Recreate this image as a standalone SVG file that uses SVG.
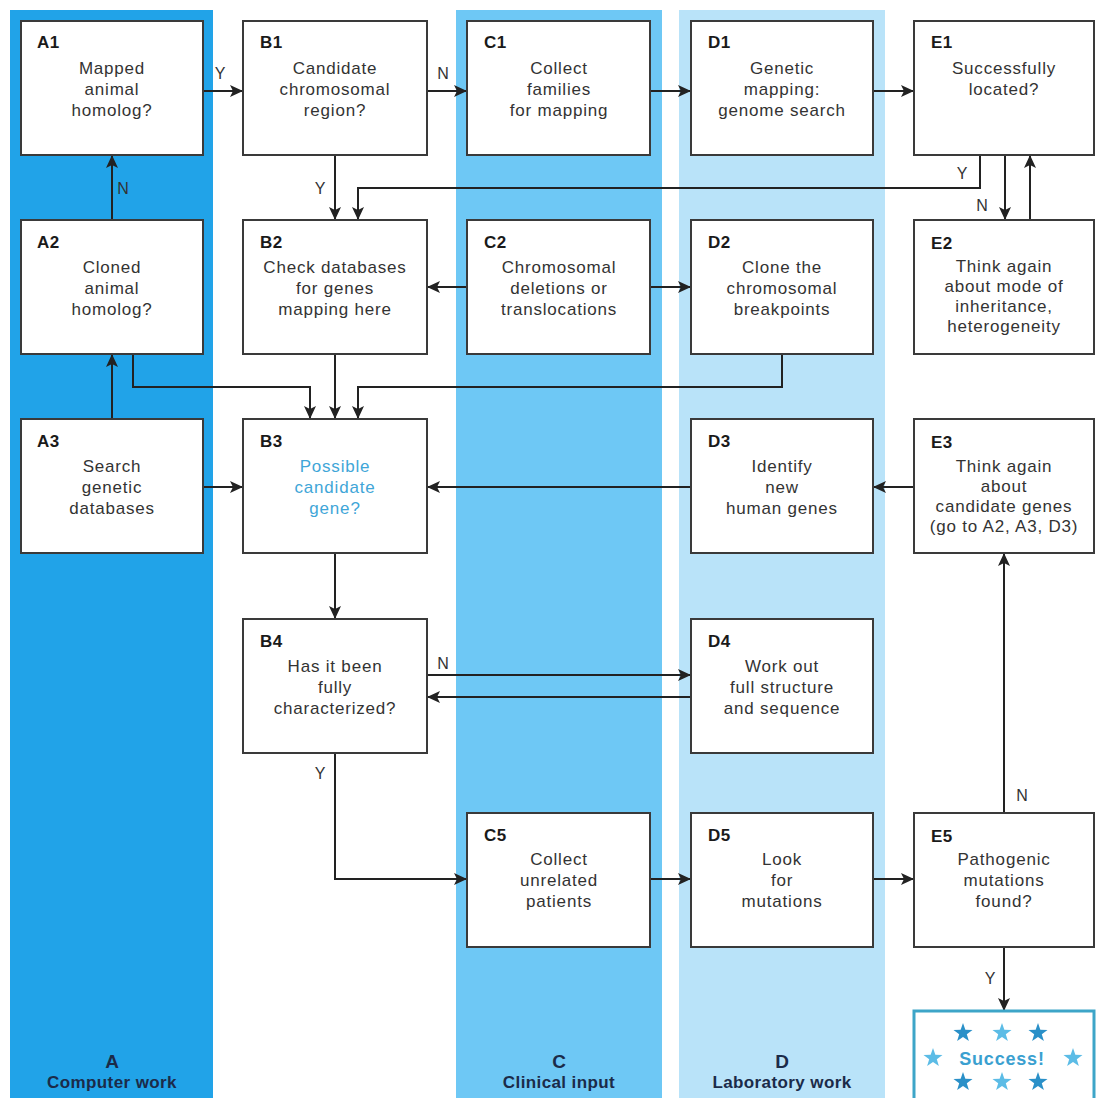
<svg xmlns="http://www.w3.org/2000/svg" width="1096" height="1098" viewBox="0 0 1096 1098">
<defs>
<style>
.box{fill:#fff;stroke:#3a3a3a;stroke-width:2}
.lbl{font-family:"Liberation Sans",Arial,sans-serif;font-weight:bold;font-size:17px;letter-spacing:0.5px;fill:#1a1a1a}
.txt{font-family:"Liberation Sans",Arial,sans-serif;font-size:17px;letter-spacing:0.8px;fill:#333;text-anchor:middle}
.yn{font-family:"Liberation Sans",Arial,sans-serif;font-size:16px;fill:#333;text-anchor:middle}
.col{font-family:"Liberation Sans",Arial,sans-serif;font-weight:bold;fill:#1b2b49;text-anchor:middle}
.con{fill:none;stroke:#222;stroke-width:2;marker-end:url(#ah)}
.blue{fill:#3fa6d8}
</style>
<marker id="ah" markerUnits="userSpaceOnUse" markerWidth="14" markerHeight="12" refX="13" refY="6" orient="auto">
<path d="M0,0 L13,6 L0,12 L3,6 Z" fill="#222"/>
</marker>
<path id="star" d="M0,-10 L2.35,-3.24 L9.51,-3.09 L3.8,1.24 L5.88,8.09 L0,4 L-5.88,8.09 L-3.8,1.24 L-9.51,-3.09 L-2.35,-3.24 Z"/>
</defs>
<rect width="1096" height="1098" fill="#fff"/>
<!-- column bands -->
<rect x="10" y="10" width="203" height="1088" fill="#21a3e8"/>
<rect x="456" y="10" width="206" height="1088" fill="#6ec8f5"/>
<rect x="679" y="10" width="206" height="1088" fill="#b9e3f9"/>
<g id="column-labels">
<text class="col" x="112" y="1068" font-size="19">A</text>
<text class="col" x="112" y="1088" font-size="17" letter-spacing="0.4">Computer work</text>
<text class="col" x="559" y="1068" font-size="19">C</text>
<text class="col" x="559" y="1088" font-size="17" letter-spacing="0.4">Clinical input</text>
<text class="col" x="782" y="1068" font-size="19">D</text>
<text class="col" x="782" y="1088" font-size="17" letter-spacing="0.4">Laboratory work</text>
</g>
<!-- connectors -->
<g id="connectors">
<path class="con" d="M203,91 H243"/>
<path class="con" d="M427,91 H467"/>
<path class="con" d="M650,91 H691"/>
<path class="con" d="M873,91 H914"/>
<path class="con" d="M112,220 V155"/>
<path class="con" d="M335,155 V220"/>
<path class="con" d="M980,155 V188 H358 V220"/>
<path class="con" d="M1005,155 V220"/>
<path class="con" d="M1030,220 V155"/>
<path class="con" d="M467,287 H427"/>
<path class="con" d="M650,287 H691"/>
<path class="con" d="M133,354 V387 H310 V419"/>
<path class="con" d="M335,354 V419"/>
<path class="con" d="M782,354 V387 H358 V419"/>
<path class="con" d="M112,419 V354"/>
<path class="con" d="M203,487 H243"/>
<path class="con" d="M691,487 H427"/>
<path class="con" d="M914,487 H873"/>
<path class="con" d="M335,553 V619"/>
<path class="con" d="M427,675 H691"/>
<path class="con" d="M691,697 H427"/>
<path class="con" d="M335,753 V879 H467"/>
<path class="con" d="M650,879 H691"/>
<path class="con" d="M873,879 H914"/>
<path class="con" d="M1004,813 V553"/>
<path class="con" d="M1004,947 V1011"/>
<text class="yn" x="220" y="79">Y</text>
<text class="yn" x="443" y="79">N</text>
<text class="yn" x="123" y="194">N</text>
<text class="yn" x="320" y="194">Y</text>
<text class="yn" x="962" y="179">Y</text>
<text class="yn" x="982" y="211">N</text>
<text class="yn" x="443" y="669">N</text>
<text class="yn" x="320" y="779">Y</text>
<text class="yn" x="1022" y="801">N</text>
<text class="yn" x="990" y="984">Y</text>
</g>
<!-- nodes -->
<g id="A1"><rect class="box" x="21" y="21" width="182" height="134"/><text class="lbl" x="37" y="48">A1</text>
<text class="txt" x="112" y="74">Mapped</text><text class="txt" x="112" y="95">animal</text><text class="txt" x="112" y="116">homolog?</text></g>
<g id="B1"><rect class="box" x="243" y="21" width="184" height="134"/><text class="lbl" x="260" y="48">B1</text>
<text class="txt" x="335" y="74">Candidate</text><text class="txt" x="335" y="95">chromosomal</text><text class="txt" x="335" y="116">region?</text></g>
<g id="C1"><rect class="box" x="467" y="21" width="183" height="134"/><text class="lbl" x="484" y="48">C1</text>
<text class="txt" x="559" y="74">Collect</text><text class="txt" x="559" y="95">families</text><text class="txt" x="559" y="116">for mapping</text></g>
<g id="D1"><rect class="box" x="691" y="21" width="182" height="134"/><text class="lbl" x="708" y="48">D1</text>
<text class="txt" x="782" y="74">Genetic</text><text class="txt" x="782" y="95">mapping:</text><text class="txt" x="782" y="116">genome search</text></g>
<g id="E1"><rect class="box" x="914" y="21" width="180" height="134"/><text class="lbl" x="931" y="48">E1</text>
<text class="txt" x="1004" y="74">Successfully</text><text class="txt" x="1004" y="95">located?</text></g>

<g id="A2"><rect class="box" x="21" y="220" width="182" height="134"/><text class="lbl" x="37" y="248">A2</text>
<text class="txt" x="112" y="273">Cloned</text><text class="txt" x="112" y="294">animal</text><text class="txt" x="112" y="315">homolog?</text></g>
<g id="B2"><rect class="box" x="243" y="220" width="184" height="134"/><text class="lbl" x="260" y="248">B2</text>
<text class="txt" x="335" y="273">Check databases</text><text class="txt" x="335" y="294">for genes</text><text class="txt" x="335" y="315">mapping here</text></g>
<g id="C2"><rect class="box" x="467" y="220" width="183" height="134"/><text class="lbl" x="484" y="248">C2</text>
<text class="txt" x="559" y="273">Chromosomal</text><text class="txt" x="559" y="294">deletions or</text><text class="txt" x="559" y="315">translocations</text></g>
<g id="D2"><rect class="box" x="691" y="220" width="182" height="134"/><text class="lbl" x="708" y="248">D2</text>
<text class="txt" x="782" y="273">Clone the</text><text class="txt" x="782" y="294">chromosomal</text><text class="txt" x="782" y="315">breakpoints</text></g>
<g id="E2"><rect class="box" x="914" y="220" width="180" height="134"/><text class="lbl" x="931" y="249">E2</text>
<text class="txt" x="1004" y="272">Think again</text><text class="txt" x="1004" y="292">about mode of</text><text class="txt" x="1004" y="312">inheritance,</text><text class="txt" x="1004" y="332">heterogeneity</text></g>

<g id="A3"><rect class="box" x="21" y="419" width="182" height="134"/><text class="lbl" x="37" y="447">A3</text>
<text class="txt" x="112" y="472">Search</text><text class="txt" x="112" y="493">genetic</text><text class="txt" x="112" y="514">databases</text></g>
<g id="B3"><rect class="box" x="243" y="419" width="184" height="134"/><text class="lbl" x="260" y="447">B3</text>
<text class="txt blue" x="335" y="472">Possible</text><text class="txt blue" x="335" y="493">candidate</text><text class="txt blue" x="335" y="514">gene?</text></g>
<g id="D3"><rect class="box" x="691" y="419" width="182" height="134"/><text class="lbl" x="708" y="447">D3</text>
<text class="txt" x="782" y="472">Identify</text><text class="txt" x="782" y="493">new</text><text class="txt" x="782" y="514">human genes</text></g>
<g id="E3"><rect class="box" x="914" y="419" width="180" height="134"/><text class="lbl" x="931" y="448">E3</text>
<text class="txt" x="1004" y="472">Think again</text><text class="txt" x="1004" y="492">about</text><text class="txt" x="1004" y="512">candidate genes</text><text class="txt" x="1004" y="532">(go to A2, A3, D3)</text></g>

<g id="B4"><rect class="box" x="243" y="619" width="184" height="134"/><text class="lbl" x="260" y="647">B4</text>
<text class="txt" x="335" y="672">Has it been</text><text class="txt" x="335" y="693">fully</text><text class="txt" x="335" y="714">characterized?</text></g>
<g id="D4"><rect class="box" x="691" y="619" width="182" height="134"/><text class="lbl" x="708" y="647">D4</text>
<text class="txt" x="782" y="672">Work out</text><text class="txt" x="782" y="693">full structure</text><text class="txt" x="782" y="714">and sequence</text></g>

<g id="C5"><rect class="box" x="467" y="813" width="183" height="134"/><text class="lbl" x="484" y="841">C5</text>
<text class="txt" x="559" y="865">Collect</text><text class="txt" x="559" y="886">unrelated</text><text class="txt" x="559" y="907">patients</text></g>
<g id="D5"><rect class="box" x="691" y="813" width="182" height="134"/><text class="lbl" x="708" y="841">D5</text>
<text class="txt" x="782" y="865">Look</text><text class="txt" x="782" y="886">for</text><text class="txt" x="782" y="907">mutations</text></g>
<g id="E5"><rect class="box" x="914" y="813" width="180" height="134"/><text class="lbl" x="931" y="842">E5</text>
<text class="txt" x="1004" y="865">Pathogenic</text><text class="txt" x="1004" y="886">mutations</text><text class="txt" x="1004" y="907">found?</text></g>

<g id="Success"><rect x="914" y="1011" width="180" height="95" fill="#fff" stroke="#3da5c8" stroke-width="3"/>
<use href="#star" x="963" y="1033" fill="#2a90c8"/>
<use href="#star" x="1002" y="1033" fill="#5cbce6"/>
<use href="#star" x="1038" y="1033" fill="#2a90c8"/>
<use href="#star" x="933" y="1058" fill="#5cbce6"/>
<use href="#star" x="1073" y="1058" fill="#5cbce6"/>
<use href="#star" x="963" y="1082" fill="#2a90c8"/>
<use href="#star" x="1002" y="1082" fill="#5cbce6"/>
<use href="#star" x="1038" y="1082" fill="#2a90c8"/>
<text x="1002" y="1065" font-family="Liberation Sans, Arial, sans-serif" font-weight="bold" font-size="18" letter-spacing="0.8" fill="#3aa0d0" text-anchor="middle">Success!</text></g>
</svg>
